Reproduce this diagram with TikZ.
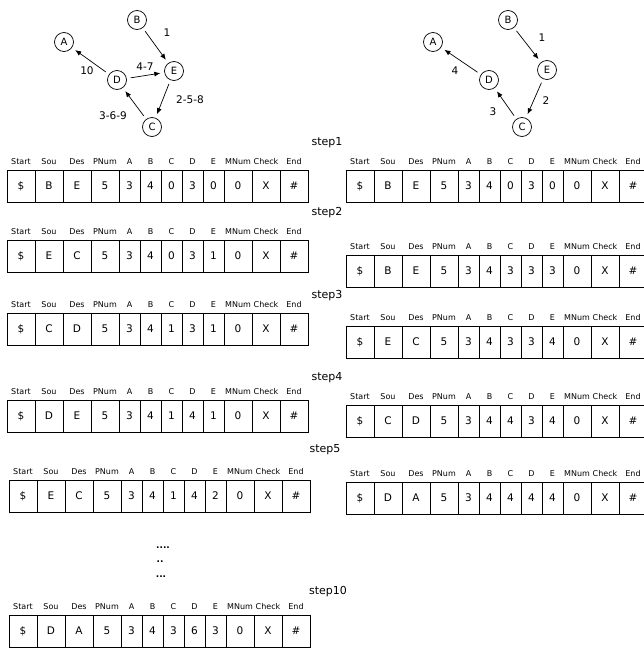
\documentclass[tikz,border=0pt]{standalone}
\usepackage{fontspec}
\setmainfont{DejaVu Sans}
\usetikzlibrary{arrows.meta}

\begin{document}
\begin{tikzpicture}[
  x=1pt, y=-1pt,
  %%── Styles ───────────────────────────────────────────────────────────────
  vertex/.style={
    circle, draw, line width=0.7pt, minimum size=19pt,
    inner sep=0pt, font=\fontsize{10}{11}\selectfont
  },
  hop/.style={
    draw, line width=0.7pt, -{Latex[length=6pt,width=5pt]},
    shorten <=4pt, shorten >=4pt
  },
  hoplabel/.style={font=\fontsize{10.5}{12}\selectfont, inner sep=0pt},
  steplabel/.style={font=\fontsize{11}{13}\selectfont, inner sep=0pt},
  cell/.style={
    draw, line width=0.8pt, minimum height=32pt,
    inner sep=0pt, outer sep=0pt, font=\fontsize{10.5}{12}\selectfont
  },
  colhead/.style={font=\fontsize{8}{9}\selectfont, anchor=base, inner sep=0pt},
  dotrow/.style={font=\bfseries\fontsize{9}{10}\selectfont, inner sep=0pt},
]
\useasboundingbox (0,0) rectangle (643,648);

%%── Graph, left (all hops) ──────────────────────────────────────────────
\node[vertex] (A)  at ( 64, 42) {A};
\node[vertex] (B)  at (137, 20) {B};
\node[vertex] (D)  at (117, 80) {D};
\node[vertex] (E)  at (174, 71) {E};
\node[vertex] (C)  at (152,127) {C};

\draw[hop] (B) -- (E);
\draw[hop] (D) -- (A);
\draw[hop] (D) -- (E);
\draw[hop] (E) -- (C);
\draw[hop] (C) -- (D);

\node[hoplabel] (lbe) at (167, 33) {1};
\node[hoplabel] (lda) at ( 87, 71) {10};
\node[hoplabel] (lde) at (145, 67) {4-7};
\node[hoplabel] (lec) at (190,100) {2-5-8};
\node[hoplabel] (lcd) at (113,116) {3-6-9};

%%── Graph, right (final path) ───────────────────────────────────────────
\node[vertex] (A2) at (433, 42) {A};
\node[vertex] (B2) at (508, 20) {B};
\node[vertex] (D2) at (489, 80) {D};
\node[vertex] (E2) at (547, 70) {E};
\node[vertex] (C2) at (522,127) {C};

\draw[hop] (B2) -- (E2);
\draw[hop] (D2) -- (A2);
\draw[hop] (E2) -- (C2);
\draw[hop] (C2) -- (D2);

\node[hoplabel] (lbe2) at (542, 38) {1};
\node[hoplabel] (lda2) at (455, 71) {4};
\node[hoplabel] (lec2) at (546,101) {2};
\node[hoplabel] (lcd2) at (493,112) {3};

%%── Step titles ─────────────────────────────────────────────────────────
\node[steplabel] (st1)  at (327,143) {step1};
\node[steplabel] (st2)  at (327,213) {step2};
\node[steplabel] (st3)  at (327,296) {step3};
\node[steplabel] (st4)  at (327,378) {step4};
\node[steplabel] (st5)  at (325,450) {step5};
\node[steplabel] (st10) at (328,592) {step10};

%%── Packet tables (left x=7, right x=346; y = top of the row) ───────────
%% widths: Start..PNum 28, A..E 21, MNum..End 28
\foreach \tname/\tx/\ty/\vals in {
    lt1/7/170/{\$,B,E,5,3,4,0,3,0,0,X,\#},
    lt2/7/240/{\$,E,C,5,3,4,0,3,1,0,X,\#},
    lt3/7/313/{\$,C,D,5,3,4,1,3,1,0,X,\#},
    lt4/7/400/{\$,D,E,5,3,4,1,4,1,0,X,\#},
    lt5/9/480/{\$,E,C,5,3,4,1,4,2,0,X,\#},
    lt10/9/615/{\$,D,A,5,3,4,3,6,3,0,X,\#},
    rt1/346/170/{\$,B,E,5,3,4,0,3,0,0,X,\#},
    rt2/346/255/{\$,B,E,5,3,4,3,3,3,0,X,\#},
    rt3/346/326/{\$,E,C,5,3,4,3,3,4,0,X,\#},
    rt4/346/405/{\$,C,D,5,3,4,4,3,4,0,X,\#},
    rt5/346/482/{\$,D,A,5,3,4,4,4,4,0,X,\#}}{
  \foreach \v [count=\i] in \vals {
    \pgfmathsetmacro\cx{\tx+(\i<5 ? (\i-0.5)*28 : (\i<10 ? 112+(\i-4.5)*21 : 217+(\i-9.5)*28))}
    \pgfmathsetmacro\cw{(\i>4 && \i<10) ? 21 : 28}
    \node[cell, minimum width=\cw pt] (\tname-\i) at (\cx, \ty+16) {\v};
  }
  \foreach \h [count=\i] in {Start,Sou,Des,PNum,A,B,C,D,E,MNum,Check,End}
    \node[colhead] (\tname-h\i) at ([yshift=6pt]\tname-\i.north) {\h};
}

%%── Skipped steps ───────────────────────────────────────────────────────
\node[dotrow] (dots1) at (163,548) {....};
\node[dotrow] (dots2) at (160,562) {..};
\node[dotrow] (dots3) at (161,577) {...};

\end{tikzpicture}
\end{document}
